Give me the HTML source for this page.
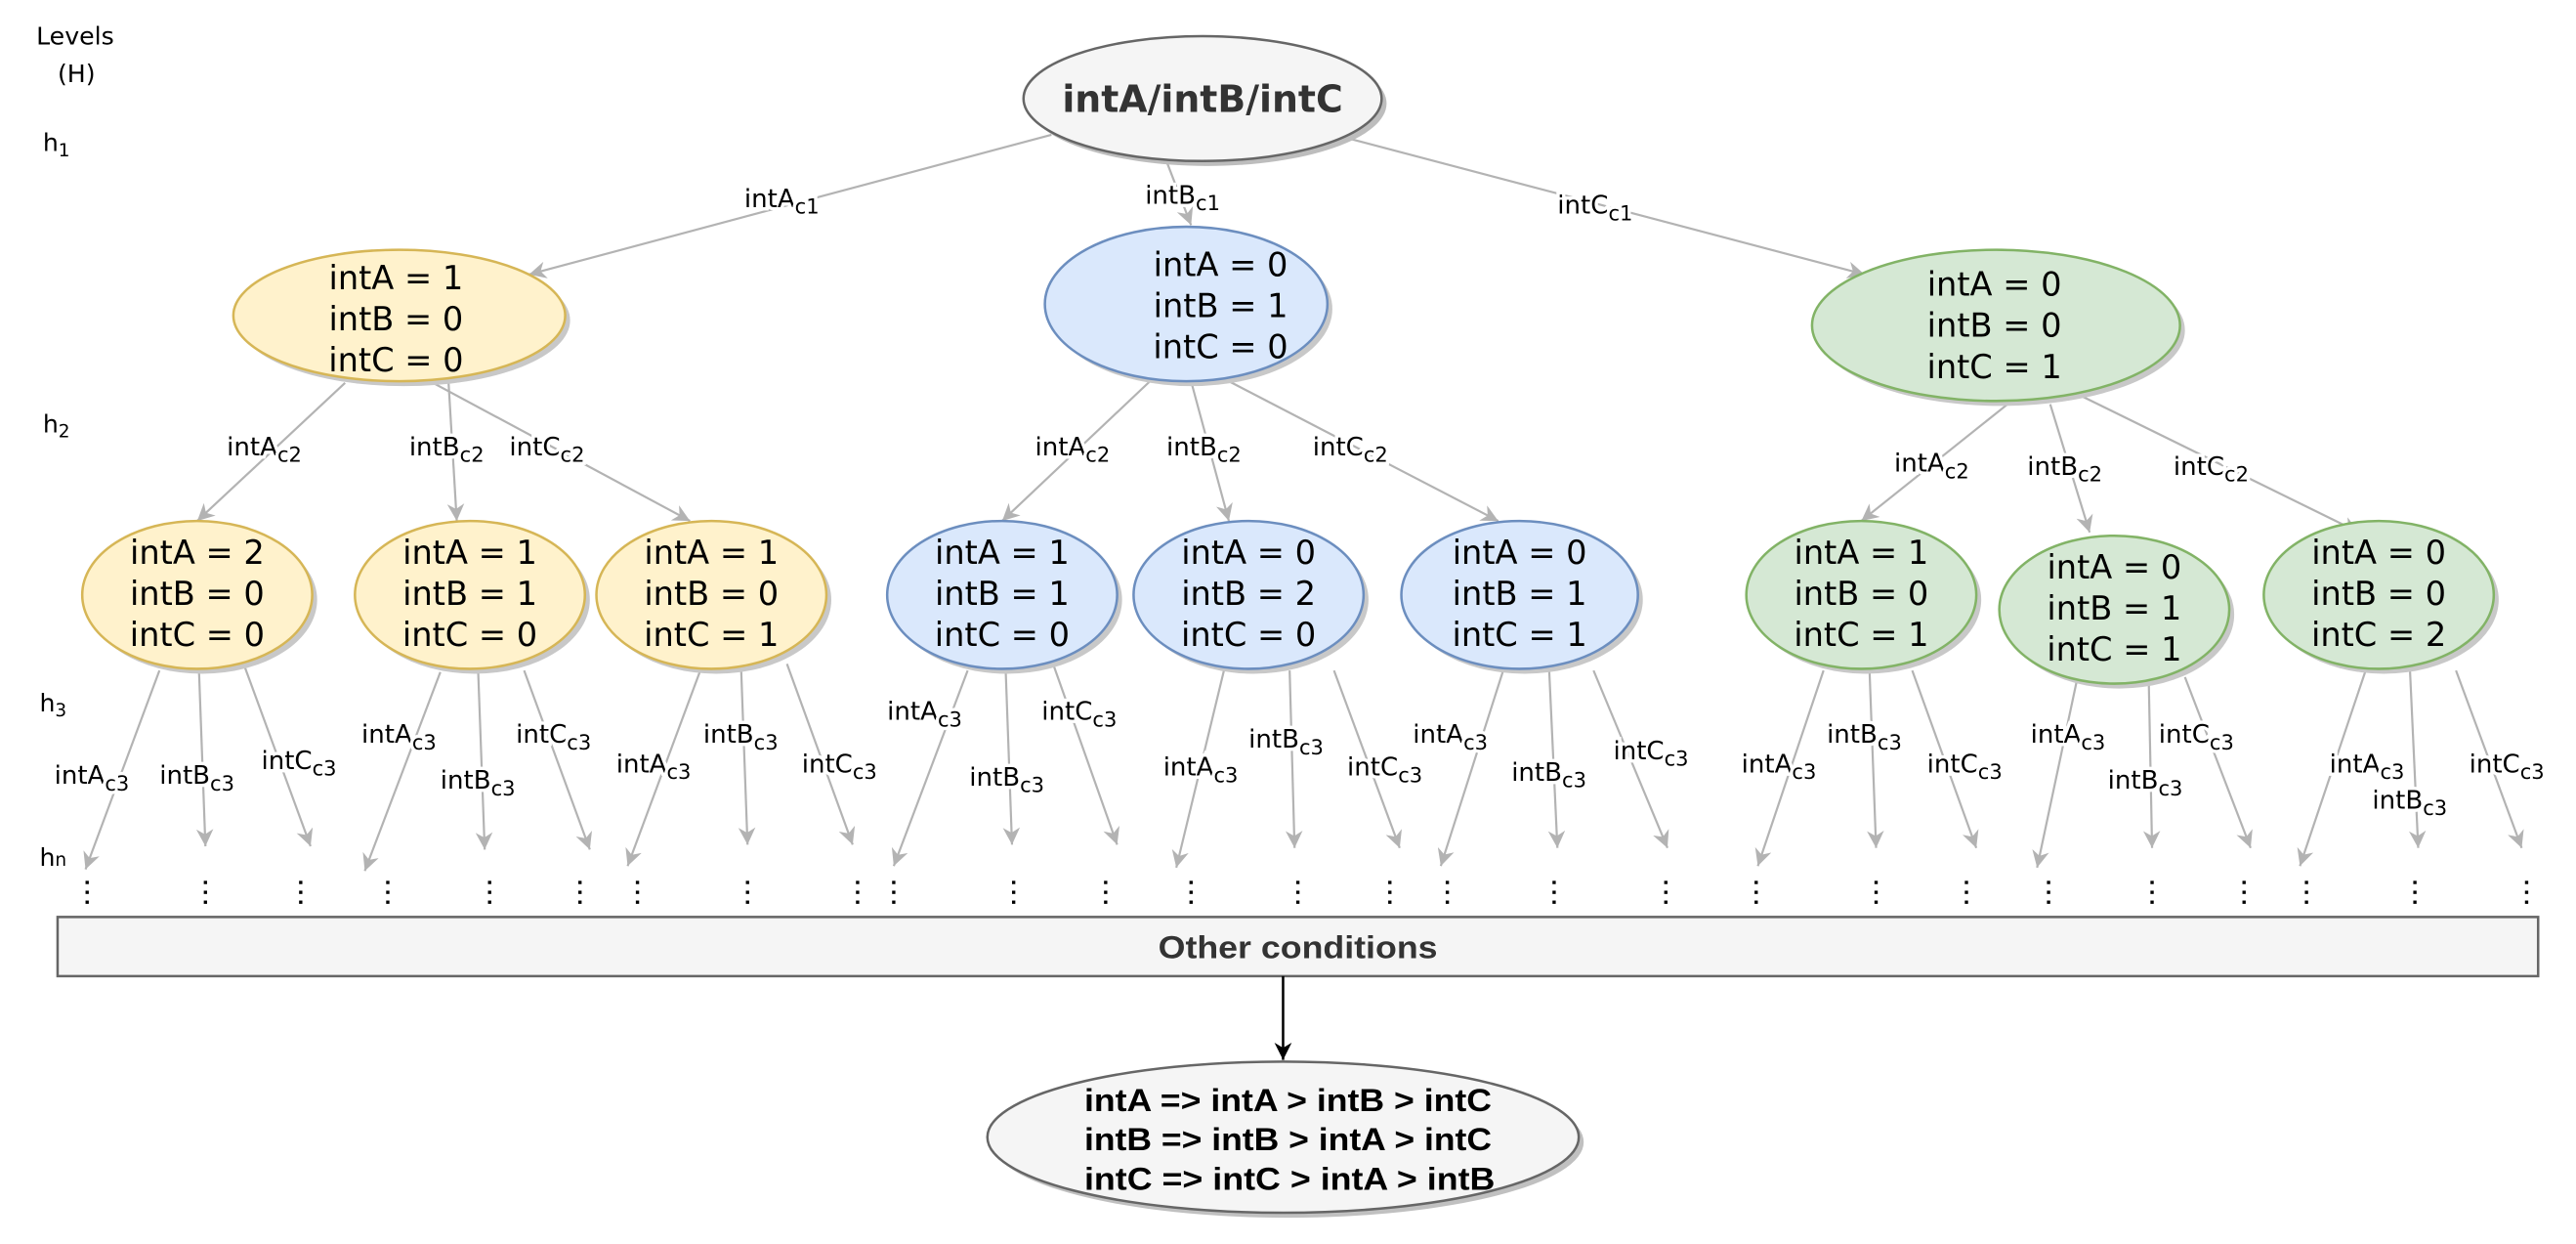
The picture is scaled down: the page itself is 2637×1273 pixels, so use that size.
<!DOCTYPE html>
<html><head><meta charset="utf-8"><style>
html,body{margin:0;padding:0;background:#fff;}
svg{display:block;}
.n{font-family:"DejaVu Sans",sans-serif;font-size:20px;fill:#000;}
.l{font-family:"DejaVu Sans",sans-serif;font-size:15.5px;fill:#000;paint-order:stroke;stroke:#fff;stroke-width:4px;}
.lv{font-family:"DejaVu Sans",sans-serif;font-size:15px;fill:#000;}
.e{stroke:#b3b3b3;stroke-width:1.3;fill:none;marker-end:url(#a);}
.d{font-family:"Liberation Sans",sans-serif;font-size:19px;font-weight:bold;fill:#000;}
</style></head><body>
<svg width="2637" height="1273" viewBox="0 0 1568 757" xmlns="http://www.w3.org/2000/svg">
<defs>
<marker id="a" viewBox="0 0 10 10" refX="10" refY="5" markerWidth="8" markerHeight="8" orient="auto"><path d="M0,0 L10,5 L0,10 L3,5z" fill="#b3b3b3"/></marker>
<marker id="b" viewBox="0 0 10 10" refX="10" refY="5" markerWidth="7" markerHeight="7" orient="auto"><path d="M0,0 L10,5 L0,10 L3,5z" fill="#000"/></marker>
<g id="dt"><rect x="-1" y="536" width="2" height="2"/><rect x="-1" y="542" width="2" height="2"/><rect x="-1" y="548" width="2" height="2"/></g>
</defs>
<!-- levels -->
<text class="lv" x="22" y="27">Levels</text>
<text class="lv" x="35" y="50">(H)</text>
<text class="lv" x="26" y="92">h<tspan font-size="11" dy="3">1</tspan></text>
<text class="lv" x="26" y="263">h<tspan font-size="11" dy="3">2</tspan></text>
<text class="lv" x="24" y="433">h<tspan font-size="11" dy="3">3</tspan></text>
<text class="lv" x="24" y="527">h<tspan font-size="11">n</tspan></text>

<!-- edges level1 -->
<line class="e" x1="640" y1="82" x2="322" y2="167"/>
<line class="e" x1="710" y1="98" x2="725" y2="137"/>
<line class="e" x1="820" y1="84" x2="1135" y2="167"/>
<!-- level2 edges -->
<line class="e" x1="210" y1="233" x2="120" y2="317"/>
<line class="e" x1="273" y1="233" x2="278" y2="317"/>
<line class="e" x1="258" y1="230" x2="420" y2="317"/>
<line class="e" x1="700" y1="232" x2="610" y2="317"/>
<line class="e" x1="725" y1="232" x2="748" y2="317"/>
<line class="e" x1="748" y1="232" x2="912" y2="317"/>
<line class="e" x1="1222" y1="246" x2="1133" y2="317"/>
<line class="e" x1="1248" y1="246" x2="1272" y2="324"/>
<line class="e" x1="1265" y1="240" x2="1436" y2="324"/>
<!-- level3 edges -->
<g>
<line class="e" x1="97" y1="408" x2="52" y2="529"/><line class="e" x1="121" y1="406" x2="125" y2="515"/><line class="e" x1="149" y1="406" x2="189" y2="515"/>
<line class="e" x1="268" y1="409" x2="222" y2="530"/><line class="e" x1="291" y1="408" x2="295" y2="517"/><line class="e" x1="319" y1="408" x2="359" y2="517"/>
<line class="e" x1="427" y1="406" x2="382" y2="527"/><line class="e" x1="451" y1="404" x2="455" y2="514"/><line class="e" x1="479" y1="404" x2="519" y2="514"/>
<line class="e" x1="589" y1="408" x2="544" y2="527"/><line class="e" x1="612" y1="404" x2="616" y2="514"/><line class="e" x1="641" y1="404" x2="680" y2="514"/>
<line class="e" x1="745" y1="408" x2="716" y2="528"/><line class="e" x1="785" y1="408" x2="788" y2="516"/><line class="e" x1="812" y1="408" x2="852" y2="516"/>
<line class="e" x1="915" y1="408" x2="877" y2="527"/><line class="e" x1="943" y1="408" x2="948" y2="516"/><line class="e" x1="970" y1="408" x2="1015" y2="516"/>
<line class="e" x1="1110" y1="408" x2="1070" y2="527"/><line class="e" x1="1138" y1="408" x2="1142" y2="516"/><line class="e" x1="1164" y1="408" x2="1203" y2="516"/>
<line class="e" x1="1264" y1="415" x2="1240" y2="528"/><line class="e" x1="1308" y1="415" x2="1310" y2="516"/><line class="e" x1="1330" y1="412" x2="1370" y2="516"/>
<line class="e" x1="1440" y1="408" x2="1400" y2="527"/><line class="e" x1="1467" y1="408" x2="1472" y2="516"/><line class="e" x1="1495" y1="408" x2="1535" y2="516"/>
</g>

<!-- edge labels -->
<g class="l">
<text x="453" y="126">intA<tspan font-size="12.5" dy="4">c1</tspan></text>
<text x="697" y="124">intB<tspan font-size="12.5" dy="4">c1</tspan></text>
<text x="948" y="130">intC<tspan font-size="12.5" dy="4">c1</tspan></text>
<text x="138" y="277">intA<tspan font-size="12.5" dy="4">c2</tspan></text>
<text x="249" y="277">intB<tspan font-size="12.5" dy="4">c2</tspan></text>
<text x="310" y="277">intC<tspan font-size="12.5" dy="4">c2</tspan></text>
<text x="630" y="277">intA<tspan font-size="12.5" dy="4">c2</tspan></text>
<text x="710" y="277">intB<tspan font-size="12.5" dy="4">c2</tspan></text>
<text x="799" y="277">intC<tspan font-size="12.5" dy="4">c2</tspan></text>
<text x="1153" y="287">intA<tspan font-size="12.5" dy="4">c2</tspan></text>
<text x="1234" y="289">intB<tspan font-size="12.5" dy="4">c2</tspan></text>
<text x="1323" y="289">intC<tspan font-size="12.5" dy="4">c2</tspan></text>

<text x="33" y="477">intA<tspan font-size="12.5" dy="4">c3</tspan></text>
<text x="97" y="477">intB<tspan font-size="12.5" dy="4">c3</tspan></text>
<text x="159" y="468">intC<tspan font-size="12.5" dy="4">c3</tspan></text>
<text x="220" y="452">intA<tspan font-size="12.5" dy="4">c3</tspan></text>
<text x="268" y="480">intB<tspan font-size="12.5" dy="4">c3</tspan></text>
<text x="314" y="452">intC<tspan font-size="12.5" dy="4">c3</tspan></text>
<text x="375" y="470">intA<tspan font-size="12.5" dy="4">c3</tspan></text>
<text x="428" y="452">intB<tspan font-size="12.5" dy="4">c3</tspan></text>
<text x="488" y="470">intC<tspan font-size="12.5" dy="4">c3</tspan></text>
<text x="540" y="438">intA<tspan font-size="12.5" dy="4">c3</tspan></text>
<text x="590" y="478">intB<tspan font-size="12.5" dy="4">c3</tspan></text>
<text x="634" y="438">intC<tspan font-size="12.5" dy="4">c3</tspan></text>
<text x="708" y="472">intA<tspan font-size="12.5" dy="4">c3</tspan></text>
<text x="760" y="455">intB<tspan font-size="12.5" dy="4">c3</tspan></text>
<text x="820" y="472">intC<tspan font-size="12.5" dy="4">c3</tspan></text>
<text x="860" y="452">intA<tspan font-size="12.5" dy="4">c3</tspan></text>
<text x="920" y="475">intB<tspan font-size="12.5" dy="4">c3</tspan></text>
<text x="982" y="462">intC<tspan font-size="12.5" dy="4">c3</tspan></text>
<text x="1060" y="470">intA<tspan font-size="12.5" dy="4">c3</tspan></text>
<text x="1112" y="452">intB<tspan font-size="12.5" dy="4">c3</tspan></text>
<text x="1173" y="470">intC<tspan font-size="12.5" dy="4">c3</tspan></text>
<text x="1236" y="452">intA<tspan font-size="12.5" dy="4">c3</tspan></text>
<text x="1283" y="480">intB<tspan font-size="12.5" dy="4">c3</tspan></text>
<text x="1314" y="452">intC<tspan font-size="12.5" dy="4">c3</tspan></text>
<text x="1418" y="470">intA<tspan font-size="12.5" dy="4">c3</tspan></text>
<text x="1444" y="492">intB<tspan font-size="12.5" dy="4">c3</tspan></text>
<text x="1503" y="470">intC<tspan font-size="12.5" dy="4">c3</tspan></text>
</g>

<!-- root -->
<ellipse cx="735" cy="63" rx="109" ry="38" fill="#bdbdbd"/>
<ellipse cx="732" cy="60" rx="109" ry="38" fill="#f5f5f5" stroke="#666" stroke-width="1.5"/>
<text x="732" y="68" text-anchor="middle" font-family="DejaVu Sans, sans-serif" font-size="22.5" font-weight="bold" fill="#333">intA/intB/intC</text>

<!-- level2 nodes -->
<g>
<ellipse cx="246" cy="195" rx="101" ry="40" fill="#c8c8c8"/>
<ellipse cx="243" cy="192" rx="101" ry="40" fill="#fff2cc" stroke="#d6b656" stroke-width="1.5"/>
<text class="n" text-anchor="middle"><tspan x="241" y="176">intA = 1</tspan><tspan x="241" y="201">intB = 0</tspan><tspan x="241" y="226">intC = 0</tspan></text>
<ellipse cx="725" cy="188" rx="86" ry="47" fill="#c8c8c8"/>
<ellipse cx="722" cy="185" rx="86" ry="47" fill="#dae8fc" stroke="#6c8ebf" stroke-width="1.5"/>
<text class="n" text-anchor="middle"><tspan x="743" y="168">intA = 0</tspan><tspan x="743" y="193">intB = 1</tspan><tspan x="743" y="218">intC = 0</tspan></text>
<ellipse cx="1218" cy="201" rx="112" ry="46" fill="#c8c8c8"/>
<ellipse cx="1215" cy="198" rx="112" ry="46" fill="#d5e8d4" stroke="#82b366" stroke-width="1.5"/>
<text class="n" text-anchor="middle"><tspan x="1214" y="180">intA = 0</tspan><tspan x="1214" y="205">intB = 0</tspan><tspan x="1214" y="230">intC = 1</tspan></text>
</g>

<!-- level3 nodes -->
<g>
<ellipse cx="123" cy="365" rx="70" ry="45" fill="#c8c8c8"/><ellipse cx="120" cy="362" rx="70" ry="45" fill="#fff2cc" stroke="#d6b656" stroke-width="1.5"/>
<text class="n" text-anchor="middle"><tspan x="120" y="343">intA = 2</tspan><tspan x="120" y="368">intB = 0</tspan><tspan x="120" y="393">intC = 0</tspan></text>
<ellipse cx="289" cy="365" rx="70" ry="45" fill="#c8c8c8"/><ellipse cx="286" cy="362" rx="70" ry="45" fill="#fff2cc" stroke="#d6b656" stroke-width="1.5"/>
<text class="n" text-anchor="middle"><tspan x="286" y="343">intA = 1</tspan><tspan x="286" y="368">intB = 1</tspan><tspan x="286" y="393">intC = 0</tspan></text>
<ellipse cx="436" cy="365" rx="70" ry="45" fill="#c8c8c8"/><ellipse cx="433" cy="362" rx="70" ry="45" fill="#fff2cc" stroke="#d6b656" stroke-width="1.5"/>
<text class="n" text-anchor="middle"><tspan x="433" y="343">intA = 1</tspan><tspan x="433" y="368">intB = 0</tspan><tspan x="433" y="393">intC = 1</tspan></text>

<ellipse cx="613" cy="365" rx="70" ry="45" fill="#c8c8c8"/><ellipse cx="610" cy="362" rx="70" ry="45" fill="#dae8fc" stroke="#6c8ebf" stroke-width="1.5"/>
<text class="n" text-anchor="middle"><tspan x="610" y="343">intA = 1</tspan><tspan x="610" y="368">intB = 1</tspan><tspan x="610" y="393">intC = 0</tspan></text>
<ellipse cx="763" cy="365" rx="70" ry="45" fill="#c8c8c8"/><ellipse cx="760" cy="362" rx="70" ry="45" fill="#dae8fc" stroke="#6c8ebf" stroke-width="1.5"/>
<text class="n" text-anchor="middle"><tspan x="760" y="343">intA = 0</tspan><tspan x="760" y="368">intB = 2</tspan><tspan x="760" y="393">intC = 0</tspan></text>
<ellipse cx="928" cy="365" rx="72" ry="45" fill="#c8c8c8"/><ellipse cx="925" cy="362" rx="72" ry="45" fill="#dae8fc" stroke="#6c8ebf" stroke-width="1.5"/>
<text class="n" text-anchor="middle"><tspan x="925" y="343">intA = 0</tspan><tspan x="925" y="368">intB = 1</tspan><tspan x="925" y="393">intC = 1</tspan></text>

<ellipse cx="1136" cy="365" rx="70" ry="45" fill="#c8c8c8"/><ellipse cx="1133" cy="362" rx="70" ry="45" fill="#d5e8d4" stroke="#82b366" stroke-width="1.5"/>
<text class="n" text-anchor="middle"><tspan x="1133" y="343">intA = 1</tspan><tspan x="1133" y="368">intB = 0</tspan><tspan x="1133" y="393">intC = 1</tspan></text>
<ellipse cx="1290" cy="374" rx="70" ry="45" fill="#c8c8c8"/><ellipse cx="1287" cy="371" rx="70" ry="45" fill="#d5e8d4" stroke="#82b366" stroke-width="1.5"/>
<text class="n" text-anchor="middle"><tspan x="1287" y="352">intA = 0</tspan><tspan x="1287" y="377">intB = 1</tspan><tspan x="1287" y="402">intC = 1</tspan></text>
<ellipse cx="1451" cy="365" rx="70" ry="45" fill="#c8c8c8"/><ellipse cx="1448" cy="362" rx="70" ry="45" fill="#d5e8d4" stroke="#82b366" stroke-width="1.5"/>
<text class="n" text-anchor="middle"><tspan x="1448" y="343">intA = 0</tspan><tspan x="1448" y="368">intB = 0</tspan><tspan x="1448" y="393">intC = 2</tspan></text>
</g>

<!-- dots -->
<g fill="#000">
<use href="#dt" x="53"/><use href="#dt" x="125"/><use href="#dt" x="183"/><use href="#dt" x="236"/><use href="#dt" x="298"/><use href="#dt" x="353"/><use href="#dt" x="388"/><use href="#dt" x="455"/><use href="#dt" x="522"/><use href="#dt" x="544"/><use href="#dt" x="617"/><use href="#dt" x="673"/><use href="#dt" x="725"/><use href="#dt" x="790"/><use href="#dt" x="846"/><use href="#dt" x="881"/><use href="#dt" x="946"/><use href="#dt" x="1014"/><use href="#dt" x="1069"/><use href="#dt" x="1142"/><use href="#dt" x="1197"/><use href="#dt" x="1247"/><use href="#dt" x="1310"/><use href="#dt" x="1366"/><use href="#dt" x="1404"/><use href="#dt" x="1470"/><use href="#dt" x="1538"/>
</g>

<!-- other conditions -->
<rect x="35" y="558" width="1510" height="36" fill="#f5f5f5" stroke="#666" stroke-width="1.5"/>
<text x="705" y="583" textLength="170" lengthAdjust="spacingAndGlyphs" font-family="Liberation Sans, sans-serif" font-size="19" font-weight="bold" fill="#333">Other conditions</text>
<line x1="781" y1="594" x2="781" y2="645" stroke="#000" stroke-width="1.5" marker-end="url(#b)"/>

<!-- bottom -->
<ellipse cx="784" cy="695" rx="180" ry="46" fill="#c0c0c0"/>
<ellipse cx="781" cy="692" rx="180" ry="46" fill="#f5f5f5" stroke="#666" stroke-width="1.5"/>
<text class="d"><tspan x="660" y="676" textLength="248" lengthAdjust="spacingAndGlyphs">intA =&gt; intA &gt; intB &gt; intC</tspan></text>
<text class="d"><tspan x="660" y="700" textLength="248" lengthAdjust="spacingAndGlyphs">intB =&gt; intB &gt; intA &gt; intC</tspan></text>
<text class="d"><tspan x="660" y="724" textLength="250" lengthAdjust="spacingAndGlyphs">intC =&gt; intC &gt; intA &gt; intB</tspan></text>
</svg>
</body></html>
